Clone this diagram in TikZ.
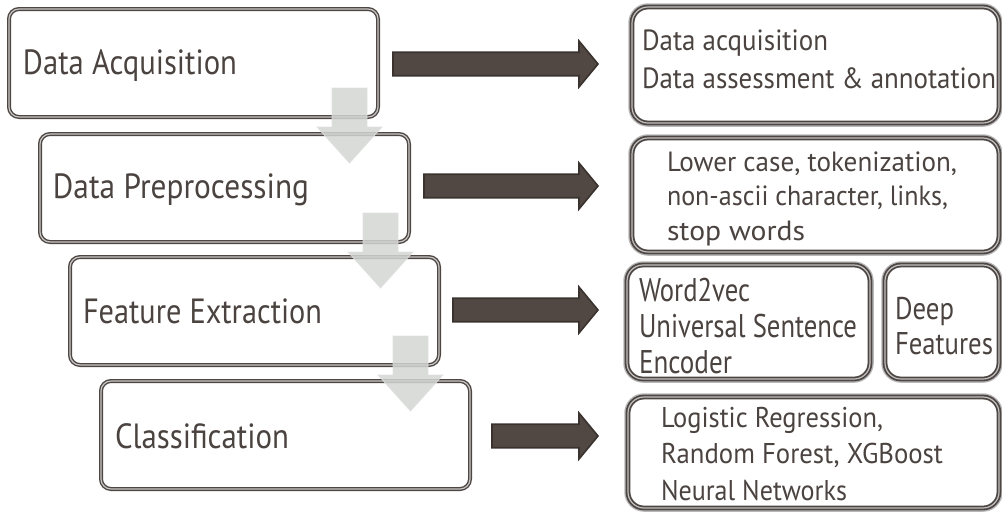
\documentclass[tikz,border=0pt]{standalone}
\usepackage{fontspec}
\setmainfont{PT Sans}
\usetikzlibrary{calc}
\newdimen\px \px=0.5pt
\newcommand\fw[2]{\strut\resizebox{#1\px}{\height}{#2}}
\definecolor{ink}{HTML}{4A4340}
\definecolor{boxline}{HTML}{4E4642}
\definecolor{arrfill}{HTML}{514843}
\definecolor{arredge}{HTML}{3A322E}
\definecolor{garrowc}{HTML}{D3D6D3}
\tikzset{
  lbox/.style={draw=boxline, line width=1.4\px, double=gray!45, double distance=1.2\px,
    rounded corners=10\px, minimum width=369\px, minimum height=108\px, inner sep=0, outer sep=0},
  rbox/.style={preaction={draw=black!28, line width=7.5\px, rounded corners=16\px},
    fill=white, draw=boxline, line width=1.8\px, double=gray!50, double distance=1.2\px,
    rounded corners=16\px, inner sep=0, outer sep=0},
  txt/.style={anchor=north west, inner sep=0, outer sep=0, align=left, text=ink},
  garr/.style={fill=garrowc, draw=gray!25, line width=0.8\px, opacity=0.85},
  darr/.style={fill=arrfill, draw=arredge, line width=1.6\px, line join=miter},
}
\newcommand\garrowat[1]{%
  \draw[garr] ($(#1)+(-17.5,0)$) -- ++(35,0) -- ++(0,39) -- ++(15,0) -- ++(-32.5,36)
    -- ++(-32.5,-36) -- ++(15,0) -- cycle;}
\newcommand\darrow[2]{%
  \draw[darr] ($(#1)+(0,-11.75)$) -- ($(#2)+(-19,-11.75)$) -- ($(#2)+(-19,-23)$) -- (#2)
    -- ($(#2)+(-19,23)$) -- ($(#2)+(-19,11.75)$) -- ($(#1)+(0,11.75)$) -- cycle;}
\begin{document}
\begin{tikzpicture}[x=0.5pt, y=-0.5pt]
\useasboundingbox (0,0) rectangle (1002,511);
% left stage boxes
\node[lbox] (b1) at (193.5,63) {};
\node[lbox] (b2) at (224.5,188) {};
\node[lbox] (b3) at (254.5,311) {};
\node[lbox] (b4) at (285.5,435) {};
% right detail boxes
\node[rbox, minimum width=367\px, minimum height=116\px] (r1) at (815.5,65) {};
\node[rbox, minimum width=367\px, minimum height=114\px] (r2) at (815.5,195) {};
\node[rbox, minimum width=243\px, minimum height=114\px] (r3a) at (748.5,322) {};
\node[rbox, minimum width=114\px, minimum height=114\px] (r3b) at (942,322) {};
\node[rbox, minimum width=371\px, minimum height=111\px] (r4) at (813.5,452.5) {};
% left texts
\node[txt, font=\fontsize{17.5}{20}\selectfont] (t1) at (23,46) {\fw{214}{Data Acquisition}};
\node[txt, font=\fontsize{17.5}{20}\selectfont] (t2) at (53,170) {\fw{256}{Data Preprocessing}};
\node[txt, font=\fontsize{17.5}{20}\selectfont] (t3) at (83,295) {\fw{239}{Feature Extraction}};
\node[txt, font=\fontsize{17.5}{20}\selectfont] (t4) at (115,420) {\fw{174}{Classification}};
% right texts
\node[txt, font=\fontsize{14.6}{19}\selectfont] (u1) at (642,23.5)
  {\fw{186}{Data acquisition}\\\fw{354}{Data assessment \& annotation}};
\node[txt, font=\fontsize{13.9}{17.25}\selectfont] (u2) at (667,146.9)
  {\fw{290}{Lower case, tokenization,}\\\fw{281}{non-ascii character, links,}\\\fw{138}{stop words}};
\node[txt, font=\fontsize{16.4}{18}\selectfont] (u3a) at (639,275.8)
  {\fw{111}{Word2vec}\\\fw{218}{Universal Sentence}\\\fw{93}{Encoder}};
\node[txt, font=\fontsize{15.7}{17.5}\selectfont] (u3b) at (895,295)
  {\fw{59}{Deep}\\\fw{98}{Features}};
\node[txt, font=\fontsize{14.3}{18.25}\selectfont] (u4) at (661,401.5)
  {\fw{222}{Logistic Regression,}\\\fw{282}{Random Forest, XGBoost}\\\fw{186}{Neural Networks}};
% gray down arrows between stages
\coordinate (g1) at ($(b1.south east)+(-28.5,-29)$);
\coordinate (g2) at ($(b2.south east)+(-28.5,-29)$);
\coordinate (g3) at ($(b3.south east)+(-28.5,-29)$);
\garrowat{g1}
\garrowat{g2}
\garrowat{g3}
% dark right arrows
\coordinate (xt) at (598,0);
\coordinate (s1) at ($(b1.east)+(15,1)$);
\coordinate (s2) at ($(b2.east)+(15,-2)$);
\coordinate (s3) at ($(b3.east)+(14,-1)$);
\coordinate (s4) at ($(b4.east)+(22,1)$);
\coordinate (e1) at (s1 -| xt);
\coordinate (e2) at (s2 -| xt);
\coordinate (e3) at (s3 -| xt);
\coordinate (e4) at (s4 -| xt);
\darrow{s1}{e1}
\darrow{s2}{e2}
\darrow{s3}{e3}
\darrow{s4}{e4}
\end{tikzpicture}
\end{document}
